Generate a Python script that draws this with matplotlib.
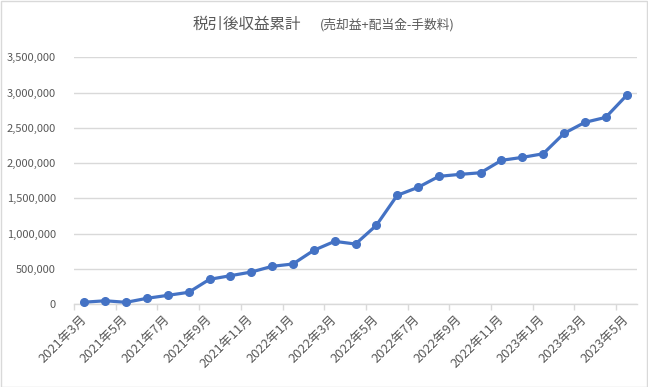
import matplotlib
matplotlib.use("Agg")
import matplotlib.pyplot as plt
from matplotlib.ticker import FuncFormatter, FixedLocator
from matplotlib.patches import Rectangle

plt.rcParams['font.family'] = ['Noto Sans CJK JP', 'DejaVu Sans']

months = ["2021年3月", "2021年4月", "2021年5月", "2021年6月", "2021年7月", "2021年8月",
          "2021年9月", "2021年10月", "2021年11月", "2021年12月", "2022年1月", "2022年2月",
          "2022年3月", "2022年4月", "2022年5月", "2022年6月", "2022年7月", "2022年8月",
          "2022年9月", "2022年10月", "2022年11月", "2022年12月", "2023年1月", "2023年2月",
          "2023年3月", "2023年4月", "2023年5月"]
values = [30000, 50000, 28000, 85000, 127000, 170000,
          354000, 405000, 457000, 538000, 571000, 765000,
          892000, 854000, 1119000, 1544000, 1657000, 1813000,
          1841000, 1864000, 2040000, 2082000, 2133000, 2422000,
          2578000, 2649000, 2960000]
yticks = [0, 500000, 1000000, 1500000, 2000000, 2500000, 3000000, 3500000]

title_main = "税引後収益累計"
title_sub = "(売却益+配当金-手数料)"

W, H = 648, 387
fig = plt.figure(figsize=(W / 100, H / 100), dpi=100)
ax = fig.add_axes([74 / W, 1 - 304.3 / H, (637 - 74) / W, (304.3 - 57.3) / H])

x = list(range(len(values)))
ax.plot(x, values, color='#4472C4', linewidth=2.3, marker='o', markersize=5.5,
        markeredgecolor='#4472C4', markerfacecolor='#4472C4', zorder=3, clip_on=False)

ax.set_xlim(-0.5, len(values) - 0.5)
ax.set_ylim(yticks[0], yticks[-1])
ax.set_yticks(yticks)
ax.yaxis.set_major_formatter(FuncFormatter(lambda v, p: f"{int(v):,}"))
ax.grid(axis='y', color='#d9d9d9', linewidth=1.0)
ax.set_axisbelow(True)

label_idx = list(range(0, len(values), 2))
ax.xaxis.set_major_locator(FixedLocator(label_idx))
ax.set_xticklabels([months[i] for i in label_idx], rotation=45, ha='right',
                   va='center', rotation_mode='anchor')
ax.xaxis.set_minor_locator(FixedLocator([i - 0.5 for i in label_idx]))
ax.tick_params(axis='x', which='major', length=0, pad=9, labelsize=9.3, labelcolor='#595959')
ax.tick_params(axis='x', which='minor', length=4, width=1, color='#d9d9d9', direction='out')
ax.tick_params(axis='y', length=0, pad=13, labelsize=8.0, labelcolor='#595959')

for s in ['top', 'right', 'left']:
    ax.spines[s].set_visible(False)
ax.spines['bottom'].set_color('#d9d9d9')
ax.spines['bottom'].set_linewidth(1.0)

ty = 1 - 28.5 / H
fig.text(193 / W, ty, title_main, fontsize=11.2, color='#595959', ha='left', va='baseline')
fig.text(320 / W, ty, title_sub, fontsize=9.2, color='#595959', ha='left', va='baseline')

fig.patches.append(Rectangle((0.5 / W, 0.5 / H), 1 - 1.5 / W, 1 - 1.5 / H,
                             transform=fig.transFigure, fill=False,
                             edgecolor='#d9d9d9', linewidth=1.0))

fig.savefig("out.png", dpi=100)
